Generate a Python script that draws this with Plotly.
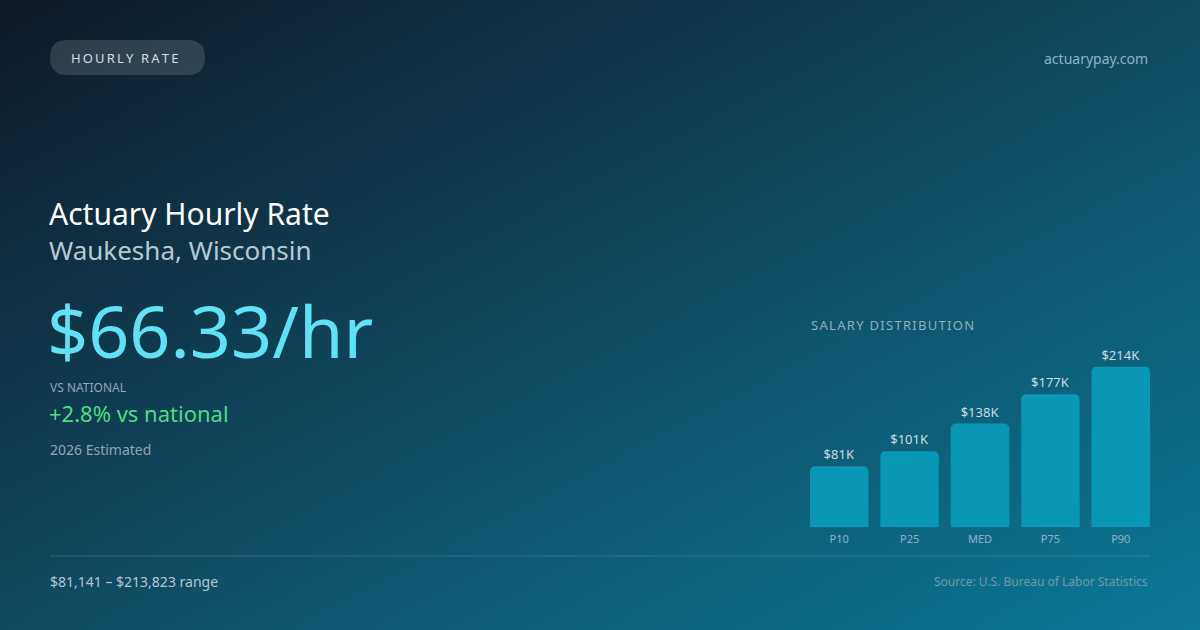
import base64
import plotly.graph_objects as go

W, H = 1200, 630

# salary distribution (thousands of USD)
pct_labels = ["P10", "P25", "MED", "P75", "P90"]
pct_values = [81.141, 101, 138, 177, 213.823]

hourly_rate = "$66.33/hr"
vs_national = "+2.8% vs national"
range_low, range_high = 81141, 213823


def px(x):
    return x / W


def py(y):
    return 1 - y / H


# diagonal background gradient as an inline svg
svg = (
    '<svg xmlns="http://www.w3.org/2000/svg" width="1200" height="630" preserveAspectRatio="none">'
    '<defs><linearGradient id="g" x1="0" y1="0" x2="1" y2="1">'
    '<stop offset="0" stop-color="#0f1826"/>'
    '<stop offset="0.5" stop-color="#0f4a61"/>'
    '<stop offset="1" stop-color="#0c7898"/>'
    '</linearGradient></defs>'
    '<rect width="1200" height="630" fill="url(#g)"/></svg>'
)
bg_src = "data:image/svg+xml;base64," + base64.b64encode(svg.encode()).decode()

fig = go.Figure()
fig.add_trace(go.Bar(
    x=pct_labels, y=pct_values,
    marker=dict(color="#0a97b5", line=dict(width=0)),
    texttemplate="$%{y:.0f}K", textposition="outside", cliponaxis=False,
    textfont=dict(size=13, color="#c9dbe3"),
    hoverinfo="skip",
))

fig.update_layout(
    width=W, height=H,
    margin=dict(l=0, r=0, t=0, b=0),
    paper_bgcolor="#0f3a4f", plot_bgcolor="rgba(0,0,0,0)",
    font=dict(family="Noto Sans", color="#ffffff"),
    showlegend=False,
    bargap=0.17, barcornerradius=5,
    xaxis=dict(domain=[px(810), px(1150)], range=[-0.415, 4.415],
               showgrid=False, zeroline=False, showline=False, ticks="",
               ticklabelstandoff=4,
               tickfont=dict(size=11, color="#8fb2c2")),
    yaxis=dict(domain=[py(527), py(347)], range=[0, 240],
               showgrid=False, zeroline=False, showticklabels=False),
    images=[dict(source=bg_src, xref="paper", yref="paper", x=0, y=1,
                 sizex=1, sizey=1, sizing="stretch", layer="below")],
)

# pill behind the tag text
fig.add_shape(type="path", xref="paper", yref="paper",
              path="M {0},{1} L {2},{1} Q {3},{1} {3},{4} Q {3},{5} {2},{5} L {0},{5} Q {6},{5} {6},{4} Q {6},{1} {0},{1} Z".format(
                  px(67.5), py(40), px(187.5), px(205), py(57.5), py(75), px(50)),
              fillcolor="rgba(255,255,255,0.14)", line=dict(width=0), layer="below")

# divider line
fig.add_shape(type="line", xref="paper", yref="paper",
              x0=px(50), x1=px(1150), y0=py(556), y1=py(556),
              line=dict(color="rgba(255,255,255,0.15)", width=1))

ts = "\u2009"


def note(x, y, text, size, color, xanchor="left"):
    fig.add_annotation(x=px(x), y=py(y), xref="paper", yref="paper", text=text,
                       showarrow=False, xanchor=xanchor, yanchor="middle",
                       font=dict(size=size, color=color))


note(69, 58, ts.join("HOURLY RATE"), 13, "#d3dfe6")
note(1150, 58, "actuarypay.com", 14, "#8db4c4", "right")
note(47, 213, "Actuary Hourly Rate", 30, "#ffffff")
note(47, 250, "Waukesha, Wisconsin", 26, "#b9c9d1")
note(45, 330, hourly_rate, 72, "#5fe1f6")
note(48, 387, "VS NATIONAL", 12, "#8ea8b5")
note(47, 413, vs_national, 22, "#4ade80")
note(48, 449, "2026 Estimated", 14, "#8fa6b1")
note(809, 325, "\u200a".join("SALARY DISTRIBUTION"), 13, "#8fb0bf")
note(48, 581, f"${range_low:,} \u2013 ${range_high:,} range", 14, "#b3c6ce")
note(1150, 581, "Source: U.S. Bureau of Labor Statistics", 12, "#6f9aab", "right")

fig.write_html("out.html", config={"displayModeBar": False},
               post_script="document.body.style.margin='0';")
